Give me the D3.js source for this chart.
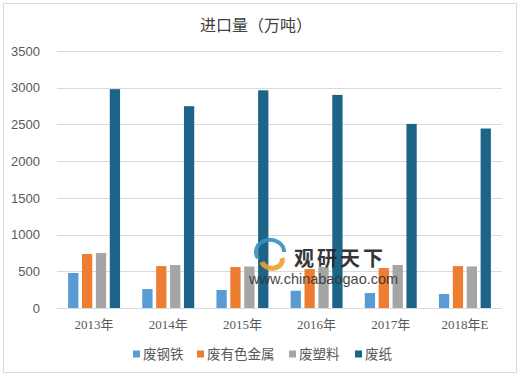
<!DOCTYPE html>
<html>
<head>
<meta charset="utf-8">
<script src="https://cdn.jsdelivr.net/npm/d3@7"></script>
<style>
  body { margin: 0; background: #fff; }
  svg { font-family: "Microsoft YaHei", "Noto Sans CJK SC", sans-serif; }
</style>
</head>
<body>
<svg id="svg" width="520" height="377"></svg>
<script>
const years = ["2013年", "2014年", "2015年", "2016年", "2017年", "2018年E"];
const seriesNames = ["废钢铁", "废有色金属", "废塑料", "废纸"];
const steel = [477, 258, 245, 235, 204, 190];
const metal = [735, 571, 558, 530, 544, 571];
const plastic = [750, 585, 565, 560, 585, 566];
const paper = [2980, 2748, 2965, 2902, 2507, 2444];
const yTicks = [0, 500, 1000, 1500, 2000, 2500, 3000, 3500];
const colors = ["#5B9BD5", "#ED7D31", "#A5A5A5", "#1C6589"];

const values = [steel, metal, plastic, paper];
const svg = d3.select("#svg");

// outer frame
svg.append("rect")
    .attr("x", 3.5).attr("y", 3.5)
    .attr("width", 513).attr("height", 369)
    .attr("fill", "#fff")
    .attr("stroke", "#d9d9d9");

svg.append("text")
    .attr("x", 256).attr("y", 31)
    .attr("text-anchor", "middle")
    .attr("font-size", 16)
    .attr("fill", "#404040")
    .text("进口量（万吨）");

const x = d3.scaleBand().domain(years).range([57, 502]);
const inner = d3.scaleBand().domain(d3.range(4))
    .range([0, x.bandwidth()])
    .paddingInner(0.26).paddingOuter(0.8);
const y = d3.scaleLinear().domain([0, 3500]).range([308, 51]);

// grid
svg.append("g").selectAll("line")
    .data(yTicks)
    .join("line")
    .attr("x1", 57).attr("x2", 502)
    .attr("y1", d => Math.round(y(d)) + 0.5)
    .attr("y2", d => Math.round(y(d)) + 0.5)
    .attr("stroke", "#d9d9d9");

const yAxis = svg.append("g")
    .attr("transform", "translate(40,0)")
    .call(d3.axisLeft(y).tickValues(yTicks).tickFormat(d3.format("d")).tickSize(0).tickPadding(0));
yAxis.select(".domain").remove();
yAxis.selectAll("text")
    .attr("font-size", 13)
    .attr("fill", "#595959")
    .attr("font-family", "Liberation Sans, Arial, sans-serif");

const xAxis = svg.append("g")
    .attr("transform", "translate(0,308)")
    .call(d3.axisBottom(x).tickSize(0).tickPadding(12));
xAxis.select(".domain").remove();
xAxis.selectAll("text")
    .attr("font-size", 13)
    .attr("fill", "#595959")
    .attr("font-family", "Liberation Serif, Noto Sans CJK SC, serif");

// bars
values.forEach((vals, s) => {
    svg.append("g").selectAll("rect")
        .data(vals)
        .join("rect")
        .attr("x", (d, i) => x(years[i]) + inner(s))
        .attr("width", inner.bandwidth())
        .attr("y", d => y(d))
        .attr("height", d => y(0) - y(d))
        .attr("fill", colors[s]);
});

// watermark
const wm = svg.append("g").attr("opacity", 0.9);
wm.append("path")
    .attr("d", "M258,258 A14,12 0 1,1 284,252")
    .attr("fill", "none").attr("stroke", "#3a8fc2").attr("stroke-width", 4);
wm.append("path")
    .attr("d", "M262,262 A10,8 0 0,0 282,258")
    .attr("fill", "none").attr("stroke", "#f0a030").attr("stroke-width", 5);
wm.append("text")
    .attr("x", 294).attr("y", 266)
    .attr("font-size", 20).attr("font-weight", "bold")
    .attr("fill", "#222")
    .attr("letter-spacing", 3)
    .text("观研天下");
wm.append("text")
    .attr("x", 249).attr("y", 284)
    .attr("font-size", 14.5)
    .attr("fill", "#333")
    .attr("font-family", "Liberation Sans, Arial, sans-serif")
    .text("www.chinabaogao.com");

// legend
const legendX = [133, 197, 289, 355];
const legend = svg.append("g").selectAll("g")
    .data(seriesNames)
    .join("g")
    .attr("transform", (d, i) => `translate(${legendX[i]},354)`);
legend.append("rect")
    .attr("x", 0).attr("y", -3.5)
    .attr("width", 7).attr("height", 7)
    .attr("fill", (d, i) => colors[i]);
legend.append("text")
    .attr("x", 10).attr("y", 0)
    .attr("dy", "0.35em")
    .attr("font-size", 13.5)
    .attr("fill", "#595959")
    .text(d => d);
</script>
</body>
</html>
